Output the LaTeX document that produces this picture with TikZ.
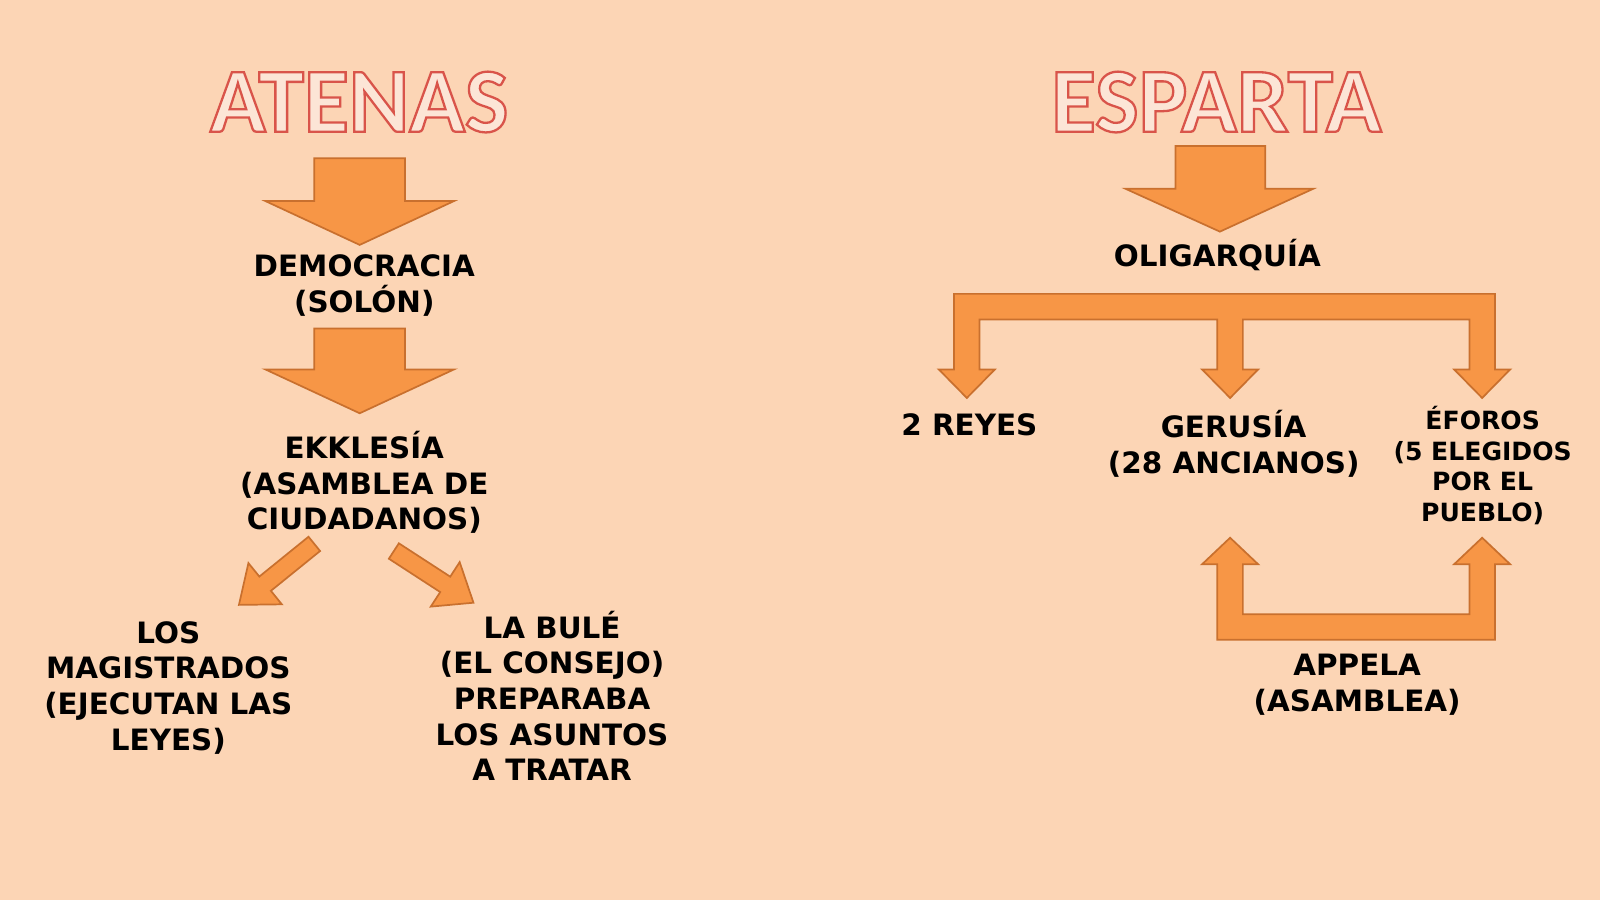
\documentclass[tikz,border=0pt]{standalone}
\usepackage{fontspec}
\setmainfont{DejaVu Sans}
\newfontfamily\titlefont{Carlito}
\definecolor{bg}{HTML}{FCD5B5}
\definecolor{arrfill}{HTML}{F79646}
\definecolor{arrline}{HTML}{C9702E}
\definecolor{tred}{HTML}{D9534A}
\begin{document}
\begin{tikzpicture}[x=0.025cm,y=-0.025cm,
  lbl/.style={font=\fontsize{20.5}{24.8}\selectfont\bfseries,align=center,text=black,inner sep=0pt},
  lblsmall/.style={font=\fontsize{17.5}{21.3}\selectfont\bfseries,align=center,text=black,inner sep=0pt},
  blockarrow/.style={fill=arrfill,draw=arrline,line width=1.2pt,line join=miter},
  ttl/.style={font=\titlefont\bfseries\fontsize{64}{64}\selectfont,text=tred,inner sep=0pt}]
\fill[bg] (0,0) rectangle (1568,882);
\useasboundingbox (0,0) rectangle (1568,882);
% titles
\node[ttl] (atenas) at (352,100) {\special{pdf:code 2 Tr 1.6 w 0.85 0.33 0.29 RG 0.99 0.90 0.84 rg}ATENAS\special{pdf:code 0 Tr}};
\node[ttl] (esparta) at (1192,100) {\special{pdf:code 2 Tr 1.6 w 0.85 0.33 0.29 RG 0.99 0.90 0.84 rg}ESPARTA\special{pdf:code 0 Tr}};
% Atenas arrows
\draw[blockarrow] (308,155)--(397,155)--(397,197)--(445,197)--(352.5,240)--(260,197)--(308,197)--cycle;
\draw[blockarrow] (308,322)--(397,322)--(397,362)--(445,362)--(352.5,405)--(260,362)--(308,362)--cycle;
\begin{scope}[shift={(308,533)},rotate=-141]
\draw[blockarrow] (0,-9)--(62,-9)--(62,-26)--(95,0)--(62,26)--(62,9)--(0,9)--cycle;
\end{scope}
\begin{scope}[shift={(386,540)},rotate=-33]
\draw[blockarrow] (0,-9)--(60,-9)--(60,-26)--(93,0)--(60,26)--(60,9)--(0,9)--cycle;
\end{scope}
% Esparta arrows
\draw[blockarrow] (1152,143)--(1240,143)--(1240,185)--(1287,185)--(1195.5,227)--(1103,185)--(1152,185)--cycle;
\draw[blockarrow] (935,288)--(1465,288)--(1465,362)--(1480,362)--(1452.5,390)--(1425,362)--(1440,362)--(1440,313)--(1218,313)--(1218,362)--(1233,362)--(1205.5,390)--(1178,362)--(1193,362)--(1193,313)--(960,313)--(960,362)--(975,362)--(947.5,390)--(920,362)--(935,362)--cycle;
\draw[blockarrow] (1193,627)--(1465,627)--(1465,553)--(1480,553)--(1452.5,527)--(1425,553)--(1440,553)--(1440,602)--(1218,602)--(1218,553)--(1233,553)--(1205.5,527)--(1178,553)--(1193,553)--cycle;
% labels
\node[lbl] (demo) at (357,280) {DEMOCRACIA\\(SOLÓN)};
\node[lbl] (ekk) at (357,473) {EKKLESÍA\\(ASAMBLEA DE\\CIUDADANOS)};
\node[lbl] (mag) at (165,674) {LOS\\MAGISTRADOS\\(EJECUTAN LAS\\LEYES)};
\node[lbl] (bule) at (541,682) {LA BULÉ\\(EL CONSEJO)\\PREPARABA\\LOS ASUNTOS\\A TRATAR};
\node[lbl] (olig) at (1193,250) {OLIGARQUÍA};
\node[lbl] (reyes) at (950,416) {2 REYES};
\node[lbl] (ger) at (1209,435) {GERUSÍA\\(28 ANCIANOS)};
\node[lblsmall] (efo) at (1453,456) {ÉFOROS\\(5 ELEGIDOS\\POR EL\\PUEBLO)};
\node[lbl] (app) at (1330,671) {APPELA\\(ASAMBLEA)};
\end{tikzpicture}
\end{document}
